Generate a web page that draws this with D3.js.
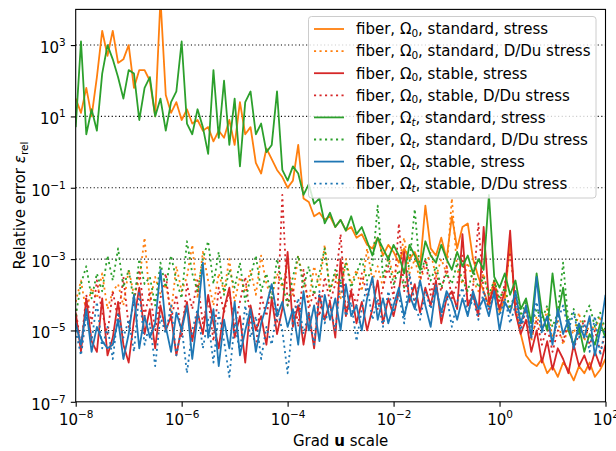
<!DOCTYPE html>
<html>
<head>
<meta charset="utf-8">
<script src="https://cdn.jsdelivr.net/npm/d3@7"></script>
<style>
  body { margin: 0; background: #fff; }
  text { font-family: "DejaVu Sans", sans-serif; fill: #000; }
</style>
</head>
<body>
<div id="root"></div>
<script>
const width = 616
const height = 451
const margin = { top: 9.4, right: 10.5, bottom: 49.2, left: 75.7 }
const fs = 15
const fsSmall = 10.5

// sample grid: log10 of the grad u scale, 10 samples per decade
const xExp = d3.range(101).map(i => -8 + i / 10)

// log10 of the relative error
const o0StdStress = [1.5,1.1,1.8,1.0,2.1,3.4,2.7,3.4,2.5,2.6,3.0,1.8,2.3,2.3,2.0,1.0,4.3,1.6,1.1,1.4,
  0.9,1.2,0.8,0.9,0.6,0.7,0.3,0.6,0.4,0.9,0.2,1.4,0.5,0.7,-0.3,-0.6,0.1,-0.2,-0.5,-0.7,
  -1.0,-0.8,0.2,-1.3,-1.4,-1.8,-1.7,-1.9,-1.8,-2.1,-1.9,-2.2,-2.1,-2.4,-2.3,-2.6,-2.7,-2.4,-2.9,-2.6,
  -2.8,-3.1,-2.7,-3.0,-2.8,-3.2,-1.5,-2.7,-2.9,-2.4,-3.0,-1.8,-2.7,-2.1,-2.0,-3.0,-3.5,-3.9,-4.3,-3.6,
  -4.5,-4.1,-2.5,-4.4,-5.1,-5.7,-5.9,-6.0,-5.8,-6.2,-6.0,-6.3,-5.9,-6.1,-6.4,-6.0,-6.2,-5.9,-6.3,-6.1,-5.8]
const o0StdDu = [-4.2,-3.6,-4.5,-3.8,-4.1,-3.4,-4.4,-3.9,-3.7,-4.3,-3.3,-4.0,-3.6,-2.4,-4.2,-3.5,-4.0,-3.7,-4.5,-3.2,
  -3.9,-3.5,-2.6,-4.1,-2.8,-3.6,-4.3,-3.4,-3.9,-3.0,-4.2,-3.5,-3.9,-3.3,-4.0,-2.9,-3.7,-4.1,-3.4,-3.8,
  -3.1,-4.0,-2.9,-3.6,-4.2,-3.2,-3.8,-2.6,-3.9,-3.4,-4.1,-3.0,-3.7,-3.3,-3.9,-2.7,-3.6,-3.2,-3.8,-2.9,
  -3.5,-3.1,-2.4,-3.4,-3.0,-3.6,-3.2,-2.8,-3.5,-3.0,-3.4,-1.3,-3.3,-3.7,-3.1,-3.6,-3.9,-3.4,-4.1,-3.6,
  -4.3,-3.8,-4.5,-4.0,-4.8,-4.3,-5.3,-4.6,-5.0,-4.4,-5.2,-4.7,-5.4,-4.9,-5.1,-4.5,-5.3,-4.8,-5.0,-4.6,-5.2]
const o0StbStress = [-4.5,-5.6,-4.1,-5.3,-5.6,-4.1,-5.7,-5.2,-4.2,-5.4,-5.9,-4.7,-3.8,-5.1,-4.4,-5.5,-4.3,-5.0,-4.6,-5.7,
  -4.9,-4.2,-5.3,-4.5,-5.1,-4.0,-4.8,-5.5,-4.4,-3.8,-5.2,-4.6,-5.9,-4.3,-5.0,-4.6,-5.4,-4.1,-5.1,-4.4,
  -2.8,-4.9,-4.3,-5.4,-4.5,-5.5,-4.0,-4.7,-4.2,-5.2,-3.0,-4.6,-3.9,-4.8,-4.2,-5.0,-4.4,-3.6,-4.8,-4.1,
  -4.6,-3.9,-2.8,-4.2,-3.7,-4.5,-3.8,-4.3,-3.6,-4.8,-4.1,-3.9,-4.4,-2.3,-4.3,-4.0,-4.6,-2.1,-4.2,-3.8,
  -4.4,-3.9,-2.2,-4.5,-5.1,-4.7,-5.6,-5.0,-5.9,-5.3,-6.1,-5.5,-5.8,-6.2,-5.4,-6.0,-5.7,-6.1,-5.6,-6.0,-5.4]
const o0StbDu = [-4.4,-5.5,-4.0,-4.8,-3.6,-4.5,-5.1,-3.9,-4.7,-3.5,-4.9,-4.2,-3.3,-4.6,-3.9,-5.0,-4.1,-3.4,-4.7,-4.0,
  -5.2,-3.7,-4.4,-3.6,-4.8,-4.1,-5.3,-3.8,-4.5,-3.9,-4.9,-4.2,-3.5,-4.7,-5.5,-4.0,-4.6,-3.7,-4.8,-1.2,
  -4.3,-3.8,-4.9,-3.3,-4.4,-3.9,-4.6,-3.5,-4.2,-3.7,-2.3,-4.5,-3.8,-4.3,-3.4,-4.0,-3.6,-4.4,-3.8,-3.2,
  -4.1,-2.0,-3.9,-3.5,-4.2,-3.6,-3.0,-4.0,-3.4,-3.9,-3.2,-4.1,-3.7,-2.9,-4.3,-3.8,-2.0,-3.9,-4.4,-3.6,
  -4.2,-3.7,-2.8,-4.1,-4.9,-4.4,-5.2,-4.7,-5.4,-4.9,-5.6,-5.0,-5.3,-4.8,-5.5,-5.1,-4.7,-5.4,-5.0,-5.6,-5.1]
const otStdStress = [0.7,3.1,0.5,1.2,0.6,2.2,3.0,2.6,2.1,1.5,2.3,2.2,0.9,1.8,2.1,1.0,1.5,0.6,1.4,1.7,
  3.1,0.8,0.5,1.2,0.7,-0.05,2.3,0.4,2.0,0.2,1.5,-0.4,1.4,1.7,0.5,0.8,0.0,0.2,1.7,-0.5,
  -0.8,-0.4,-0.6,-1.2,-0.9,-1.45,-1.3,-2.0,-1.7,-2.1,-1.9,-2.2,-1.8,-2.3,-2.1,-2.5,-2.9,-2.4,-2.7,-3.0,
  -2.6,-2.9,-3.4,-2.6,-2.9,-3.3,-2.5,-2.9,-3.1,-2.6,-3.0,-3.3,-2.8,-3.2,-2.9,-3.4,-3.0,-3.3,-1.2,-3.5,
  -3.8,-3.4,-4.0,-3.6,-4.4,-4.1,-4.8,-3.4,-4.5,-5.0,-3.4,-4.6,-3.8,-5.0,-5.4,-4.9,-5.6,-5.1,-5.4,-4.8,-5.2]
const otStdDu = [-4.6,-3.7,-3.2,-4.1,-3.4,-3.9,-2.9,-3.6,-2.7,-3.8,-3.3,-4.2,-3.0,-3.7,-3.5,-4.3,-3.1,-3.8,-2.9,-3.6,
  -4.1,-2.5,-3.4,-3.9,-3.0,-2.5,-3.7,-2.8,-4.0,-3.3,-3.8,-3.1,-4.2,-3.5,-2.9,-3.9,-3.4,-4.1,-3.0,-3.7,
  -4.3,-3.5,-2.9,-3.8,-3.2,-4.0,-3.4,-2.7,-3.9,-3.3,-3.7,-3.1,-3.8,-3.4,-3.0,-3.6,-3.2,-1.5,-3.5,-3.0,
  -3.7,-3.3,-3.8,-3.1,-1.6,-3.4,-3.0,-3.6,-3.2,-3.8,-3.4,-3.7,-3.1,-3.6,-3.9,-3.3,-3.8,-3.5,-4.0,-3.6,
  -4.1,-3.8,-4.4,-3.9,-4.6,-4.2,-4.9,-4.4,-4.7,-4.3,-4.9,-4.5,-3.1,-4.8,-4.4,-5.1,-4.6,-4.3,-4.9,-4.5,-5.0]
const otStbStress = [-4.8,-5.4,-4.4,-5.6,-4.9,-5.3,-5.5,-5.4,-4.7,-5.8,-5.1,-4.0,-5.5,-4.6,-5.2,-4.8,-3.3,-4.9,-5.6,-4.5,
  -5.0,-4.3,-5.8,-4.6,-3.1,-5.2,-4.4,-6.0,-4.7,-5.5,-4.2,-5.7,-5.0,-4.4,-5.6,-4.8,-4.3,-3.7,-4.6,-4.2,
  -4.9,-4.4,-5.4,-3.9,-5.0,-4.3,-5.3,-4.0,-4.7,-4.1,-5.0,-3.7,-4.6,-4.3,-5.0,-4.1,-3.5,-4.7,-4.1,-4.8,
  -4.3,-3.8,-4.6,-4.0,-4.4,-3.6,-4.3,-4.9,-3.8,-4.5,-3.9,-4.2,-4.7,-4.1,-4.6,-3.9,-4.4,-4.1,-4.6,-3.9,
  -5.0,-4.2,-4.5,-3.9,-4.8,-4.3,-5.2,-3.5,-5.0,-4.6,-5.4,-4.4,-5.1,-4.7,-5.5,-4.8,-5.2,-4.6,-5.7,-5.0,-4.0]
const otStbDu = [-5.0,-5.7,-4.6,-5.3,-4.2,-5.5,-4.9,-5.8,-4.5,-5.2,-4.7,-5.6,-3.9,-5.4,-4.8,-6.0,-4.6,-5.1,-4.3,-5.7,
  -4.9,-6.2,-5.0,-4.4,-5.5,-4.7,-5.9,-4.5,-5.3,-6.3,-4.8,-5.6,-4.3,-5.2,-4.6,-5.8,-4.9,-5.4,-4.4,-5.0,
  -6.2,-4.7,-4.1,-5.1,-4.5,-5.4,-3.9,-4.8,-4.3,-5.0,-3.6,-4.6,-4.2,-5.3,-4.4,-3.7,-4.7,-4.1,-4.9,-3.9,
  -4.5,-4.0,-4.8,-3.4,-4.3,-4.7,-3.9,-4.4,-3.7,-4.6,-4.0,-4.9,-4.2,-3.8,-4.5,-4.1,-4.7,-3.9,-4.4,-4.0,
  -4.6,-4.1,-4.8,-4.3,-5.0,-4.4,-4.9,-4.2,-5.1,-4.6,-5.3,-4.7,-4.3,-5.0,-4.5,-5.2,-4.8,-5.6,-4.6,-5.7,-4.9]

const series = [
  { domain: '0', scheme: 'standard', kind: 'stress',       color: '#ff7f0e', dotted: false, values: o0StdStress },
  { domain: '0', scheme: 'standard', kind: 'D/Du stress',  color: '#ff7f0e', dotted: true,  values: o0StdDu },
  { domain: '0', scheme: 'stable',   kind: 'stress',       color: '#d62728', dotted: false, values: o0StbStress },
  { domain: '0', scheme: 'stable',   kind: 'D/Du stress',  color: '#d62728', dotted: true,  values: o0StbDu },
  { domain: 't', scheme: 'standard', kind: 'stress',       color: '#2ca02c', dotted: false, values: otStdStress },
  { domain: 't', scheme: 'standard', kind: 'D/Du stress',  color: '#2ca02c', dotted: true,  values: otStdDu },
  { domain: 't', scheme: 'stable',   kind: 'stress',       color: '#1f77b4', dotted: false, values: otStbStress },
  { domain: 't', scheme: 'stable',   kind: 'D/Du stress',  color: '#1f77b4', dotted: true,  values: otStbDu }
]

const xTicks = [1e-8, 1e-6, 1e-4, 1e-2, 1, 1e2]
const xTickExp = ['−8', '−6', '−4', '−2', '0', '2']
const yTicks = [1e-7, 1e-5, 1e-3, 1e-1, 1e1, 1e3]
const yTickExp = ['−7', '−5', '−3', '−1', '1', '3']

const innerW = width - margin.left - margin.right
const innerH = height - margin.top - margin.bottom

const svg = d3.select('#root').append('svg')
  .attr('width', width)
  .attr('height', height)

const g = svg.append('g')
  .attr('transform', `translate(${margin.left},${margin.top})`)

const x = d3.scaleLog().domain([1e-8, 1e2]).range([0, innerW])
const y = d3.scaleLog().domain([1e-7, 1e4]).range([innerH, 0])

svg.append('defs').append('clipPath').attr('id', 'clip')
  .append('rect').attr('width', innerW).attr('height', innerH)

// dotted grid on the labelled decades
g.append('g').selectAll('line')
  .data(yTicks.slice(1))
  .enter().append('line')
    .attr('x1', 0).attr('x2', innerW)
    .attr('y1', d => y(d)).attr('y2', d => y(d))
    .attr('stroke', '#000')
    .attr('stroke-width', 1.1)
    .attr('stroke-dasharray', '1.1,2.5')

const line = d3.line()
  .x((d, i) => x(Math.pow(10, xExp[i])))
  .y(d => y(Math.pow(10, d)))

g.append('g').attr('clip-path', 'url(#clip)')
  .selectAll('path')
  .data(series)
  .enter().append('path')
    .attr('d', d => line(d.values))
    .attr('fill', 'none')
    .attr('stroke', d => d.color)
    .attr('stroke-width', 1.8)
    .attr('stroke-linejoin', 'round')
    .attr('stroke-dasharray', d => d.dotted ? '2.1,3.4' : null)

function superscript(sel, exps) {
  sel.selectAll('.tick text').each(function (d, i) {
    const t = d3.select(this).text('10').attr('font-size', fs)
    t.append('tspan').attr('dy', -7).attr('font-size', fsSmall).text(exps[i])
  })
}

const xAxis = g.append('g')
  .attr('transform', `translate(0,${innerH})`)
  .call(d3.axisBottom(x).tickValues(xTicks).tickSize(4.9).tickSizeOuter(0).tickPadding(4))
xAxis.call(superscript, xTickExp)
xAxis.selectAll('.tick text').attr('dy', null).attr('y', 23.5)

const yAxis = g.append('g')
  .call(d3.axisLeft(y).tickValues(yTicks).tickSize(4.9).tickSizeOuter(0).tickPadding(5))
yAxis.call(superscript, yTickExp)
yAxis.selectAll('.tick text').attr('dy', null).attr('y', 7.5)

svg.selectAll('.domain').remove()
svg.selectAll('.tick line').attr('stroke', '#000').attr('stroke-width', 1.1)

g.append('rect')
  .attr('width', innerW).attr('height', innerH)
  .attr('fill', 'none').attr('stroke', '#000').attr('stroke-width', 1.1)

// axis titles
const xl = svg.append('text')
  .attr('x', margin.left + innerW / 2).attr('y', 445.5)
  .attr('text-anchor', 'middle').attr('font-size', fs)
xl.append('tspan').text('Grad ')
xl.append('tspan').attr('font-weight', 'bold').text('u')
xl.append('tspan').text(' scale')

const yl = svg.append('text')
  .attr('transform', `translate(24.5,${margin.top + innerH / 2}) rotate(-90)`)
  .attr('text-anchor', 'middle').attr('font-size', fs)
yl.append('tspan').text('Relative error ')
yl.append('tspan').attr('font-style', 'italic').text('ε')
yl.append('tspan').attr('font-size', fsSmall).attr('dy', 3).text('rel')

// legend
const lg = svg.append('g')
lg.append('rect')
  .attr('x', 308.5).attr('y', 16.5).attr('width', 287.5).attr('height', 181.5)
  .attr('rx', 3)
  .attr('fill', '#fff').attr('fill-opacity', 0.8)
  .attr('stroke', '#ccc').attr('stroke-width', 1)

const rows = lg.selectAll('g.row')
  .data(series)
  .enter().append('g')
    .attr('class', 'row')
    .attr('transform', (d, i) => `translate(0,${29 + i * 22.1})`)

rows.append('line')
  .attr('x1', 314).attr('x2', 344)
  .attr('stroke', d => d.color)
  .attr('stroke-width', 1.8)
  .attr('stroke-dasharray', d => d.dotted ? '2.1,3.4' : null)

rows.append('text')
  .attr('x', 356).attr('y', 5.3).attr('font-size', fs)
  .each(function (d) {
    const t = d3.select(this)
    t.append('tspan').text('fiber, Ω')
    t.append('tspan').attr('font-size', fsSmall).attr('dy', 2.8)
      .attr('font-style', d.domain === 't' ? 'italic' : null).text(d.domain)
    t.append('tspan').attr('dy', -2.8).text(`, ${d.scheme}, ${d.kind}`)
  })
</script>
</body>
</html>
